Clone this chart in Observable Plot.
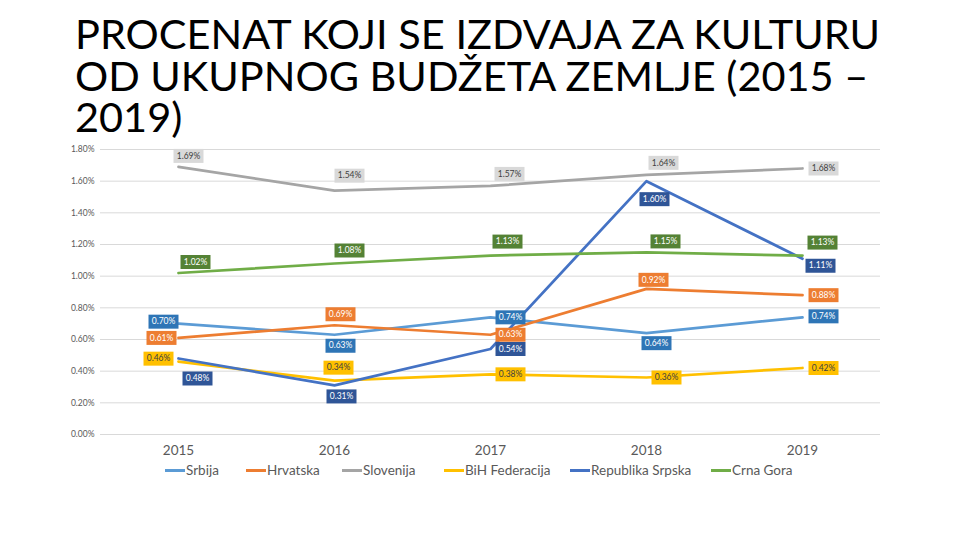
<!DOCTYPE html>
<html>
<head>
<meta charset="utf-8">
<script src="https://cdn.jsdelivr.net/npm/d3@7"></script>
<script src="https://cdn.jsdelivr.net/npm/@observablehq/plot@0.6"></script>
<style>
  html, body { margin: 0; padding: 0; background: #fff; }
  #wrap { position: relative; width: 960px; height: 540px; overflow: hidden; font-family: Lato, "Open Sans", sans-serif; }
  .tl { position: absolute; left: 75px; font-size: 41px; line-height: 34px; height: 34px; color: #000; white-space: nowrap; transform-origin: 0 0; z-index: 2; font-weight: 400; }
  #chart { position: absolute; left: 0; top: 0; }
  .leg { position: absolute; top: 462px; font-size: 13.5px; color: #595959; display: flex; align-items: center; white-space: nowrap; }
  .leg i { display: inline-block; width: 20px; height: 3px; margin-right: 1px; }
</style>
</head>
<body>
<div id="wrap">
  <div id="chart"></div>
  <div class="tl" id="t1" style="top:17px">PROCENAT KOJI SE IZDVAJA ZA KULTURU</div>
  <div class="tl" style="top:59px">OD UKUPNOG BUDŽETA ZEMLJE (2015 –</div>
  <div class="tl" style="top:100px">2019)</div>
</div>
<script>
// ---- data ----
const years = [2015, 2016, 2017, 2018, 2019];
const seriesNames = ["Srbija", "Hrvatska", "Slovenija", "BiH Federacija", "Republika Srpska", "Crna Gora"];
const srbija = [0.70, 0.63, 0.74, 0.64, 0.74];
const hrvatska = [0.61, 0.69, 0.63, 0.92, 0.88];
const slovenija = [1.69, 1.54, 1.57, 1.64, 1.68];
const bihFederacija = [0.46, 0.34, 0.38, 0.36, 0.42];
const republikaSrpska = [0.48, 0.31, 0.54, 1.60, 1.11];
const crnaGora = [1.02, 1.08, 1.13, 1.15, 1.13];
const yTicks = [0, 0.2, 0.4, 0.6, 0.8, 1.0, 1.2, 1.4, 1.6, 1.8];

// ---- styles ----
const lineColors = ["#5B9BD5", "#ED7D31", "#A5A5A5", "#FFC000", "#4472C4", "#70AD47"];
const boxColors = ["#2E75B6", "#ED7D31", "#D9D9D9", "#FFC000", "#2F5597", "#548235"];
const boxText = ["#ffffff", "#ffffff", "#404040", "#404040", "#ffffff", "#ffffff"];
// label placement offsets (px) per series per year
const labelOffsets = [
  [[-15, -2], [6, 11], [20, 0], [10, 10], [21, -1]],
  [[-17, 0], [6, -11], [20, 0], [7, -9], [21, 0]],
  [[10, -11], [15, -15], [19, -12], [17, -12], [21, 0]],
  [[-20, -3], [4, -13], [20, 0], [20, 0], [21, 0]],
  [[19, 20], [7, 11], [20, 0], [8, 18], [18, 7]],
  [[17, -11], [15, -13], [17, -14], [19, -11], [20, -13]]
];
const legendX = [165, 246, 342, 444, 570, 711];

const allValues = [srbija, hrvatska, slovenija, bihFederacija, republikaSrpska, crnaGora];
const rows = [];
seriesNames.forEach((s, si) => years.forEach((yr, yi) => rows.push({series: s, si, yi, year: yr, value: allValues[si][yi]})));

const pct = d => d.toFixed(2) + "%";
const boxSymbol = { draw(ctx) { ctx.rect(-15, -7, 30, 14); } };

const labelMarks = [];
rows.forEach(d => {
  const [dx, dy] = labelOffsets[d.si][d.yi];
  labelMarks.push(Plot.dot([d], {x: "year", y: "value", dx, dy, symbol: boxSymbol, fill: boxColors[d.si], stroke: "none"}));
  labelMarks.push(Plot.text([d], {x: "year", y: "value", dx, dy, text: d => pct(d.value), fill: boxText[d.si], fontSize: 8.5, fontFamily: "Lato, sans-serif"}));
});

const chart = Plot.plot({
  width: 960,
  height: 540,
  marginTop: 149,
  marginBottom: 106,
  marginLeft: 100,
  marginRight: 80,
  style: {fontFamily: "Lato, sans-serif", background: "transparent", overflow: "visible"},
  x: {type: "point", domain: years, padding: 0.5},
  y: {domain: [0, 1.8]},
  color: {domain: seriesNames, range: lineColors},
  marks: [
    Plot.gridY(yTicks, {stroke: "#d9d9d9", strokeOpacity: 1, strokeWidth: 1}),
    Plot.axisY(yTicks, {tickSize: 0, tickPadding: 6, fontSize: 8.5, fill: "#595959", tickFormat: pct, label: null}),
    Plot.axisX(years, {tickSize: 0, tickPadding: 11, fontSize: 13.5, fill: "#595959", tickFormat: d => String(d), label: null}),
    Plot.line(rows, {x: "year", y: "value", z: "series", stroke: "series", strokeWidth: 2.75, strokeLinejoin: "round"}),
    ...labelMarks
  ]
});
document.getElementById("chart").appendChild(chart);

// legend
const wrap = document.getElementById("wrap");
seriesNames.forEach((s, i) => {
  const el = document.createElement("div");
  el.className = "leg";
  el.style.left = legendX[i] + "px";
  el.innerHTML = `<i style="background:${lineColors[i]}"></i><span>${s}</span>`;
  wrap.appendChild(el);
});

// fit title width
const t1 = document.getElementById("t1");
const w = t1.getBoundingClientRect().width;
const sx = 805 / w;
document.querySelectorAll(".tl").forEach(el => el.style.transform = `scaleX(${sx})`);
</script>
</body>
</html>
